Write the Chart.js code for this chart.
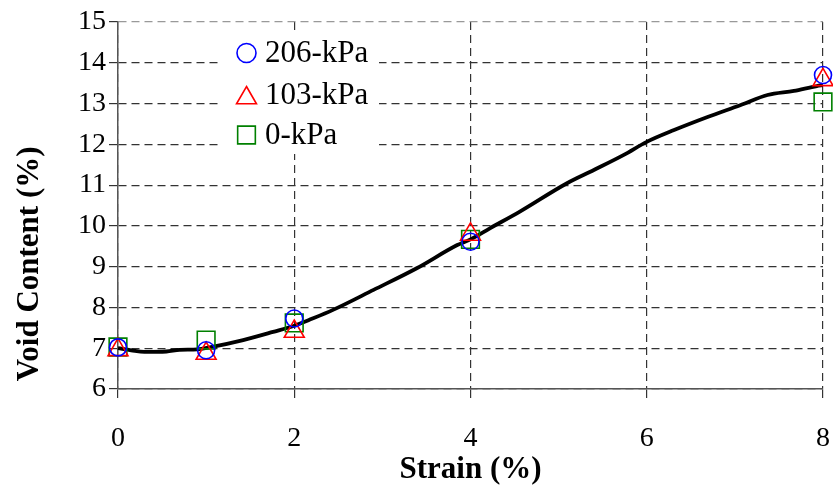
<!DOCTYPE html>
<html>
<head>
<meta charset="utf-8">
<script src="https://cdn.jsdelivr.net/npm/chart.js@4.4.1/dist/chart.umd.min.js"></script>
<style>
  html, body { margin: 0; padding: 0; background: #ffffff; }
  #wrap { width: 833px; height: 492px; position: relative; }
</style>
</head>
<body>
<div id="wrap"><canvas id="chart" width="833" height="492"></canvas></div>
<script>
// Fitted void-content curve
const strainCurve = [0, 0.15, 0.3, 0.55, 0.7, 0.9, 1.04, 1.42, 1.76, 2.0, 2.2, 2.44, 2.9, 3.39, 3.85, 4.0, 4.22, 4.56, 5.09, 5.4, 5.74, 6.0, 6.31, 6.69, 7.06, 7.37, 7.67, 7.93, 8.0];
const voidCurve   = [7.0, 6.95, 6.91, 6.92, 6.96, 6.97, 7.02, 7.2, 7.4, 7.55, 7.72, 7.94, 8.43, 8.96, 9.53, 9.67, 9.94, 10.35, 11.04, 11.37, 11.74, 12.06, 12.35, 12.67, 12.96, 13.21, 13.31, 13.43, 13.45];

// Measured void content at each confining pressure
const strainTests = [0, 1, 2, 4, 8];
const void206 = [7.02, 6.95, 7.73, 9.61, 13.70];
const void103 = [6.96, 6.87, 7.41, 9.79, 13.58];
const void0   = [7.03, 7.20, 7.62, 9.67, 13.04];

const seriesLabels = ['206-kPa', '103-kPa', '0-kPa'];
const xTickValues = [0, 2, 4, 6, 8];
const yTickValues = [6, 7, 8, 9, 10, 11, 12, 13, 14, 15];

const FONT = "'Liberation Serif', 'Times New Roman', serif";

function pts(xs, ys) { return xs.map((x, i) => ({ x: x, y: ys[i] })); }

const markerStyles = [
  { style: 'circle',   color: '#0000ff', radius: 8.5 },
  { style: 'triangle', color: '#ff0000', radius: 11.5 },
  { style: 'rect',     color: '#008000', radius: 12.5 }
];

function drawMarker(ctx, m, x, y) {
  ctx.save();
  ctx.strokeStyle = m.color;
  ctx.lineWidth = 1.6;
  ctx.beginPath();
  if (m.style === 'circle') {
    ctx.arc(x, y, m.radius, 0, Math.PI * 2);
  } else if (m.style === 'triangle') {
    const r = m.radius;
    ctx.moveTo(x, y - r);
    ctx.lineTo(x + r * Math.sin(2 * Math.PI / 3), y + r / 2);
    ctx.lineTo(x - r * Math.sin(2 * Math.PI / 3), y + r / 2);
    ctx.closePath();
  } else {
    const s = m.radius * Math.SQRT1_2;
    ctx.rect(x - s, y - s, 2 * s, 2 * s);
  }
  ctx.stroke();
  ctx.restore();
}

// Legend box drawn inside the plot area
const insideLegend = {
  id: 'insideLegend',
  beforeDatasetsDraw(chart) {
    const ctx = chart.ctx;
    ctx.save();
    ctx.fillStyle = '#ffffff';
    ctx.fillRect(221, 30, 158, 124);
    ctx.font = '31px ' + FONT;
    ctx.fillStyle = '#000000';
    ctx.textBaseline = 'middle';
    ctx.textAlign = 'left';
    const rows = [53, 95, 135];
    seriesLabels.forEach((lbl, i) => {
      const m = Object.assign({}, markerStyles[i]);
      if (m.style === 'circle') m.radius = 9.5;
      drawMarker(ctx, m, 246.5, i === 1 ? rows[i] + 3 : rows[i]);
      ctx.fillText(lbl, 265, rows[i] + 1);
    });
    ctx.restore();
  }
};

const testSets = [void206, void103, void0].map((vals, i) => ({
  type: 'scatter',
  label: seriesLabels[i],
  data: pts(strainTests, vals),
  pointStyle: markerStyles[i].style,
  pointRadius: markerStyles[i].radius,
  pointHoverRadius: markerStyles[i].radius,
  pointBorderColor: markerStyles[i].color,
  pointBackgroundColor: 'rgba(0,0,0,0)',
  pointBorderWidth: 1.6,
  showLine: false,
  clip: false,
  order: 0
}));

new Chart(document.getElementById('chart'), {
  type: 'scatter',
  data: {
    datasets: [
      {
        type: 'line',
        label: 'Curve',
        data: pts(strainCurve, voidCurve),
        borderColor: '#000000',
        borderWidth: 3.8,
        pointRadius: 0,
        cubicInterpolationMode: 'monotone',
        fill: false,
        clip: false,
        order: 1
      }
    ].concat(testSets)
  },
  options: {
    responsive: false,
    animation: false,
    devicePixelRatio: 1,
    layout: { autoPadding: false, padding: { top: 22, right: 10, bottom: 0, left: 0 } },
    plugins: { legend: { display: false }, tooltip: { enabled: false } },
    scales: {
      x: {
        type: 'linear',
        min: 0, max: 8,
        afterBuildTicks: s => { s.ticks = xTickValues.map(v => ({ value: v })); },
        afterFit: s => { s.height = 103; s.paddingLeft = 0; s.paddingRight = 0; },
        ticks: { color: '#000', padding: 24, font: { family: FONT, size: 28 } },
        grid: {
          color: '#333333', lineWidth: 1.2,
          tickColor: '#333333', tickLength: 9, tickWidth: 1.2
        },
        border: { display: true, color: '#555555', width: 1.5, dash: [8, 5] },
        title: {
          display: true, text: 'Strain (%)', color: '#000',
          font: { family: FONT, size: 31, weight: 'bold' },
          padding: { top: 0, bottom: 3 }
        }
      },
      y: {
        type: 'linear',
        min: 6, max: 15,
        afterBuildTicks: s => { s.ticks = yTickValues.map(v => ({ value: v })); },
        afterFit: s => { s.width = 118; s.paddingTop = 0; s.paddingBottom = 0; },
        ticks: { color: '#000', padding: 3, font: { family: FONT, size: 28 } },
        grid: {
          color: c => (c.tick && c.tick.value === 15 ? '#999999' : '#333333'),
          lineWidth: 1.2,
          tickColor: '#333333', tickLength: 9, tickWidth: 1.2
        },
        border: { display: true, color: '#555555', width: 1.5, dash: [8, 5] },
        title: {
          display: true, text: ' Void Content (%)', color: '#000', align: 'start',
          font: { family: FONT, size: 31, weight: 'bold' },
          padding: { top: 11, bottom: 0 }
        }
      }
    }
  },
  plugins: [insideLegend]
});
</script>
</body>
</html>
